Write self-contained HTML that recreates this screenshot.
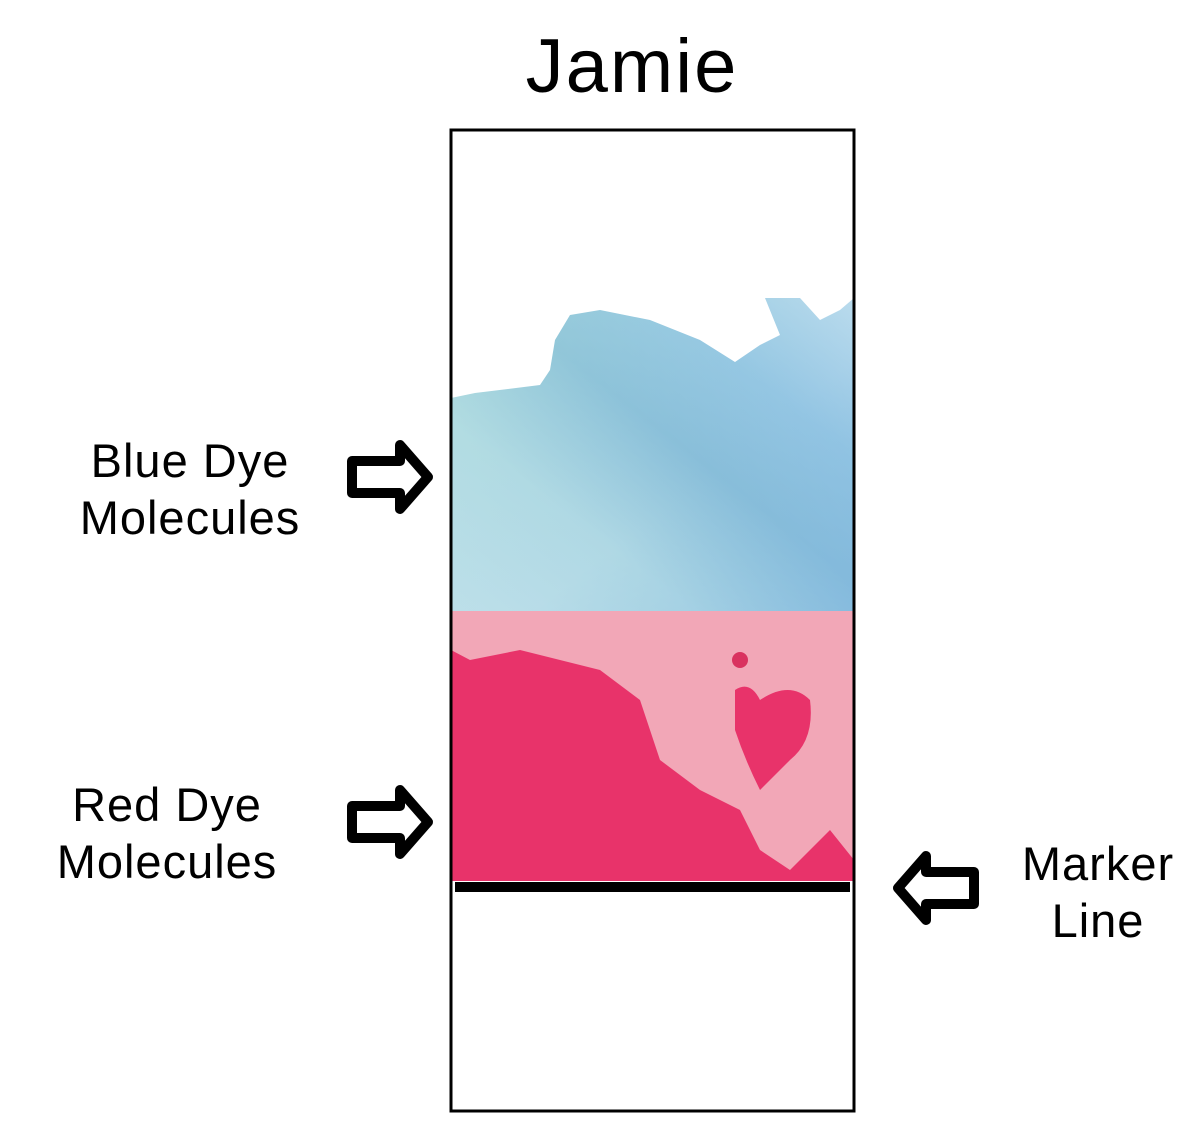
<!DOCTYPE html>
<html><head><style>
html,body{margin:0;padding:0;background:#fff;}
svg{display:block;}
text{font-family:"Liberation Sans",Arial,sans-serif;fill:#000;}
</style></head><body>
<svg width="1193" height="1138" viewBox="0 0 1193 1138" xmlns="http://www.w3.org/2000/svg">
<defs>
<linearGradient id="bl" x1="0" y1="1" x2="1" y2="0">
<stop offset="0" stop-color="#d8f0f0"/>
<stop offset="0.3" stop-color="#c4e6e8"/>
<stop offset="0.55" stop-color="#8cc0d8"/>
<stop offset="0.75" stop-color="#9ccbe6"/>
<stop offset="1" stop-color="#d4eaf6"/>
</linearGradient>
<linearGradient id="bl2" x1="0" y1="0" x2="1" y2="1">
<stop offset="0" stop-color="#a8dcd8" stop-opacity="0.5"/>
<stop offset="0.6" stop-color="#7fb8dc" stop-opacity="0.3"/>
<stop offset="1" stop-color="#7cb4e0" stop-opacity="0.6"/>
</linearGradient>
</defs>
<text x="632" y="92" font-size="76" letter-spacing="2" text-anchor="middle">Jamie</text>
<rect x="451" y="298" width="403" height="314" fill="url(#bl)"/>
<rect x="451" y="298" width="403" height="314" fill="url(#bl2)"/>
<path d="M451,298 L451,398 L475,393 L540,385 L550,370 L555,340 L570,315 L600,310 L650,320 L700,340 L735,362 L760,345 L780,335 L765,298 Z" fill="#fff"/>
<path d="M800,298 L820,320 L840,310 L854,298 Z" fill="#fff"/>
<rect x="451" y="611" width="403" height="270" fill="#e8336a"/>
<path d="M451,611 L854,611 L854,860 L830,830 L790,870 L760,850 L740,810 L700,790 L660,760 L640,700 L600,670 L560,660 L520,650 L470,660 L451,650 Z" fill="#f2a7b7"/>
<path d="M735,690 Q750,680 760,700 Q790,680 810,700 Q815,740 790,760 L760,790 Q745,760 735,730 Z" fill="#e8336a"/>
<circle cx="740" cy="660" r="8" fill="#d9325f"/>
<rect x="451" y="130" width="403" height="981" fill="none" stroke="#000" stroke-width="3"/>
<rect x="455" y="882" width="395" height="10" fill="#000"/>
<g fill="none" stroke="#000" stroke-width="10" stroke-linejoin="round">
<path d="M352,461 L400,461 L400,445 L428,477 L400,509 L400,493 L352,493 Z"/>
<path d="M352,806 L400,806 L400,790 L428,822 L400,854 L400,838 L352,838 Z"/>
<path d="M974,872 L926,872 L926,856 L898,888 L926,920 L926,904 L974,904 Z"/>
</g>
<g font-size="47" letter-spacing="1" text-anchor="middle">
<text x="190" y="477">Blue Dye</text>
<text x="190" y="534">Molecules</text>
<text x="167" y="821">Red Dye</text>
<text x="167" y="878">Molecules</text>
<text x="1098" y="880">Marker</text>
<text x="1098" y="937">Line</text>
</g>
</svg>
</body></html>
